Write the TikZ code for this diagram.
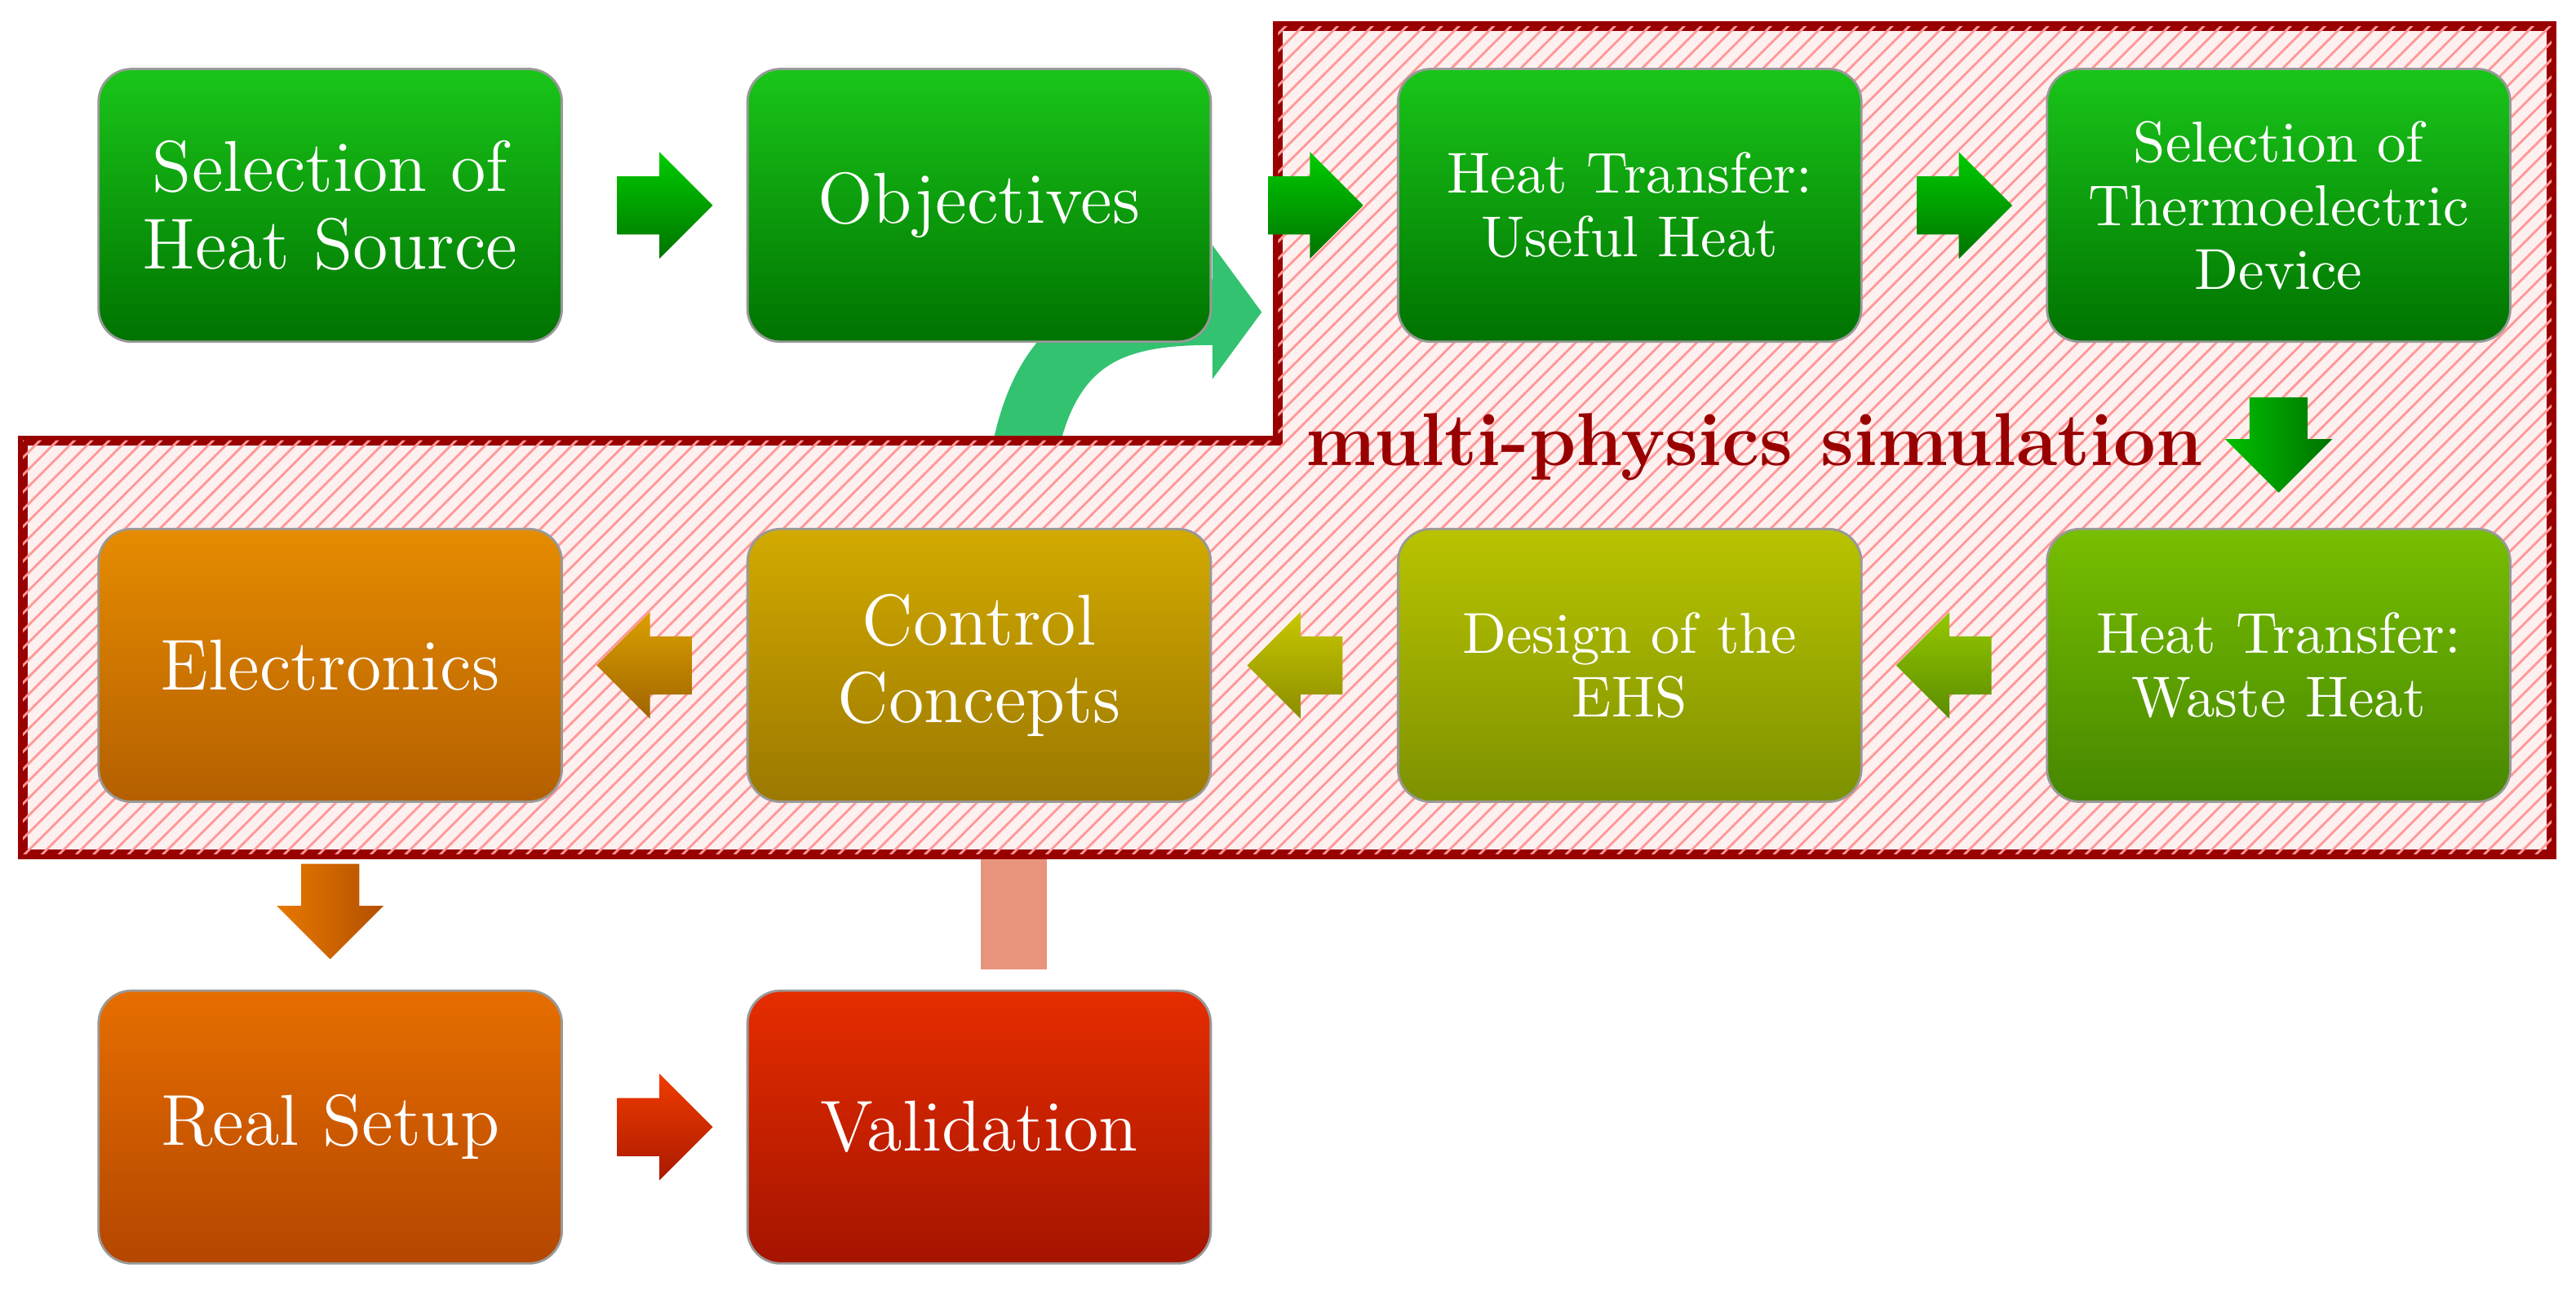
\documentclass[tikz,border=0pt]{standalone}
\usepackage{tikz}
\usetikzlibrary{positioning, shapes.arrows, patterns, arrows.meta}

\tikzset{
  stepbox/.style={draw=black!40, rounded corners=2mm, minimum width=28.2mm, minimum height=16.6mm,
    align=center, text=white, font=\fontsize{12.5}{13.5}\selectfont, inner sep=1pt},
  smallbox/.style={stepbox, font=\fontsize{10}{11}\selectfont},
  blk/.style={single arrow, draw=none, minimum height=5.8mm, minimum width=6.5mm,
    single arrow head extend=1.4mm, inner sep=1.6mm},
}

\begin{document}
\begin{tikzpicture}[x=0.1mm, y=-0.1mm]
\useasboundingbox (0,0) rectangle (1568,788);

% feedback paths behind the region
\draw[line width=4mm, color=teal!60!green!80, -{Triangle[length=3mm,width=8mm]}]
  (620,300) .. controls (630,200) and (680,190) .. (768,190);
\draw[line width=4mm, color=red!40!brown!60] (617,590) -- (617,500);

% simulation region
\path[fill=red!6, draw=red!60!black, line width=0.6mm]
  (778,16) -- (1553,16) -- (1553,520) -- (14,520) -- (14,268) -- (778,268) -- cycle;
\path[pattern=north east lines, pattern color=red!40]
  (778,16) -- (1553,16) -- (1553,520) -- (14,520) -- (14,268) -- (778,268) -- cycle;
\node[font=\bfseries\fontsize{13}{14}\selectfont, text=red!60!black] (sim) at (1068,272) {multi-physics simulation};

% first row
\node[stepbox, top color=green!75!black!90, bottom color=green!45!black] (source) at (201,125) {Selection of\\Heat Source};
\node[stepbox, top color=green!75!black!90, bottom color=green!45!black] (obj) at (596,125) {Objectives};
\node[smallbox, top color=green!75!black!90, bottom color=green!45!black] (useful) at (992,125) {Heat Transfer:\\Useful Heat};
\node[smallbox, top color=green!75!black!90, bottom color=green!45!black] (teg) at (1387,125) {Selection of\\Thermoelectric\\Device};

% second row
\node[smallbox, top color={rgb,255:red,120;green,190;blue,0}, bottom color={rgb,255:red,70;green,135;blue,0}] (waste) at (1387,405) {Heat Transfer:\\Waste Heat};
\node[smallbox, top color={rgb,255:red,185;green,195;blue,0}, bottom color={rgb,255:red,125;green,145;blue,0}] (ehs) at (992,405) {Design of the\\EHS};
\node[stepbox, top color={rgb,255:red,210;green,170;blue,0}, bottom color={rgb,255:red,155;green,120;blue,0}] (control) at (596,405) {Control\\Concepts};
\node[stepbox, top color={rgb,255:red,230;green,140;blue,0}, bottom color={rgb,255:red,180;green,95;blue,0}] (elec) at (201,405) {Electronics};

% third row
\node[stepbox, top color={rgb,255:red,230;green,110;blue,0}, bottom color={rgb,255:red,180;green,70;blue,0}] (setup) at (201,686) {Real Setup};
\node[stepbox, top color={rgb,255:red,230;green,45;blue,0}, bottom color={rgb,255:red,165;green,20;blue,0}] (valid) at (596,686) {Validation};

% block arrows
\node[blk, top color=green!80!black, bottom color=green!45!black] (a1) at (396,125) {};
\node[blk, top color=green!80!black, bottom color=green!45!black] (a2) at (792,125) {};
\node[blk, top color=green!80!black, bottom color=green!45!black] (a3) at (1187,125) {};
\node[blk, shape border rotate=270, left color=green!75!black, right color=green!45!black] (a4) at (1387,262) {};
\node[blk, shape border rotate=180, top color={rgb,255:red,150;green,200;blue,0}, bottom color={rgb,255:red,90;green,140;blue,0}] (a5) at (1192,405) {};
\node[blk, shape border rotate=180, top color={rgb,255:red,200;green,200;blue,0}, bottom color={rgb,255:red,140;green,140;blue,0}] (a6) at (797,405) {};
\node[blk, shape border rotate=180, top color={rgb,255:red,220;green,160;blue,0}, bottom color={rgb,255:red,160;green,100;blue,0}] (a7) at (401,405) {};
\node[blk, shape border rotate=270, left color={rgb,255:red,230;green,120;blue,0}, right color={rgb,255:red,180;green,80;blue,0}] (a8) at (201,546) {};
\node[blk, top color={rgb,255:red,240;green,60;blue,0}, bottom color={rgb,255:red,170;green,25;blue,0}] (a9) at (396,686) {};

\end{tikzpicture}
\end{document}
